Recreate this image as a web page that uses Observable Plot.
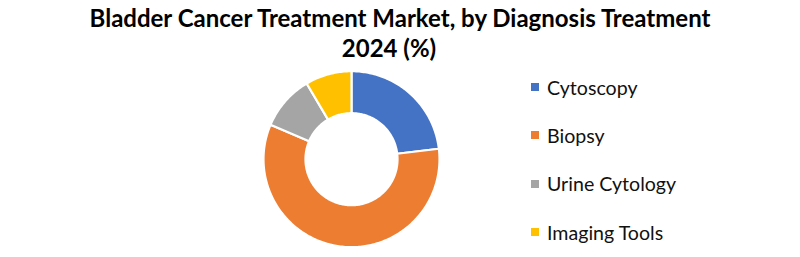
<!DOCTYPE html>
<html>
<head>
<meta charset="utf-8">
<script src="https://cdn.jsdelivr.net/npm/d3@7"></script>
<script src="https://cdn.jsdelivr.net/npm/@observablehq/plot@0.6"></script>
<style>
  html, body { margin: 0; padding: 0; background: #fff; }
  #wrap { position: relative; width: 800px; height: 257px; overflow: hidden; font-family: Lato, "Open Sans", sans-serif; }
  #title { position: absolute; left: 0; top: 3px; width: 800px; text-align: center; font-weight: 700; font-size: 24px; line-height: 30px; color: #000; z-index: 2; }
  #title .l2 { display: block; padding-right: 22px; }
  #chart { position: absolute; left: 0; top: 0; }
  #legend { position: absolute; left: 531px; top: 63px; z-index: 2; }
  .item { display: flex; align-items: center; height: 48.3px; font-size: 19.6px; color: #111; }
  .sw { width: 8px; height: 8px; margin-right: 8px; }
</style>
</head>
<body>
<div id="wrap">
  <div id="title"><span>Bladder Cancer Treatment Market, by Diagnosis Treatment</span><span class="l2">2024 (%)</span></div>
  <div id="chart"></div>
  <div id="legend"></div>
</div>
<script>
const categories = ["Cytoscopy", "Biopsy", "Urine Cytology", "Imaging Tools"];
const shares = [23.1, 58.3, 10.1, 8.5];
const colors = ["#4472C4", "#ED7D31", "#A5A5A5", "#FFC000"];

const rows = categories.map((name, i) => ({name, value: shares[i]}));
const arcs = d3.pie().sort(null).value(d => d.value)(rows);

const inner = 0.523, outer = 1;
const pts = [];
for (const a of arcs) {
  const n = Math.max(4, Math.ceil((a.endAngle - a.startAngle) / (Math.PI / 180)));
  for (let k = 0; k <= n; k++) {
    const t = a.startAngle + (a.endAngle - a.startAngle) * k / n;
    pts.push({name: a.data.name, x: outer * Math.sin(t), y: outer * Math.cos(t)});
  }
  for (let k = n; k >= 0; k--) {
    const t = a.startAngle + (a.endAngle - a.startAngle) * k / n;
    pts.push({name: a.data.name, x: inner * Math.sin(t), y: inner * Math.cos(t)});
  }
}

const R = 88, cx = 351, cy = 158.7, W = 800, H = 257;
const plot = Plot.plot({
  width: W, height: H,
  margin: 0,
  x: {domain: [-cx / R, (W - cx) / R], axis: null},
  y: {domain: [-(H - cy) / R, cy / R], axis: null},
  color: {domain: categories, range: colors},
  marks: [
    Plot.line(pts, {x: "x", y: "y", z: "name", fill: "name", stroke: "white", strokeWidth: 2.2, curve: "linear-closed"})
  ]
});
document.getElementById("chart").appendChild(plot);

const leg = document.getElementById("legend");
categories.forEach((c, i) => {
  const it = document.createElement("div");
  it.className = "item";
  const sw = document.createElement("span");
  sw.className = "sw";
  sw.style.background = colors[i];
  const tx = document.createElement("span");
  tx.textContent = c;
  it.appendChild(sw); it.appendChild(tx);
  leg.appendChild(it);
});
</script>
</body>
</html>
